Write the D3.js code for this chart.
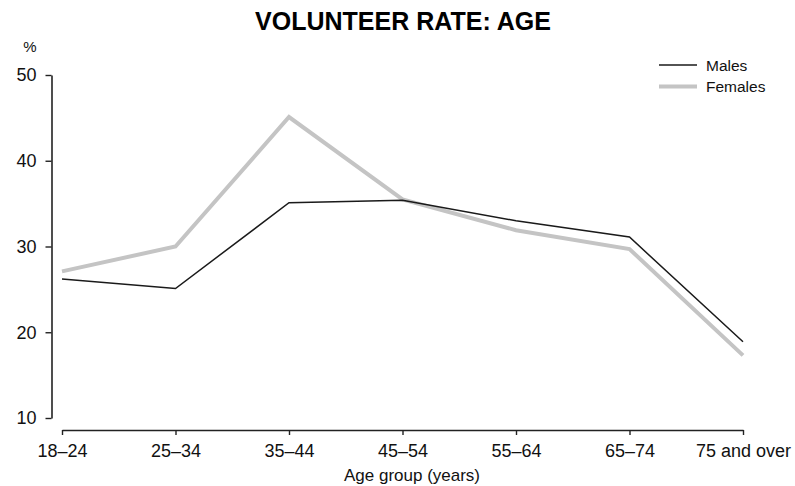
<!DOCTYPE html>
<html>
<head>
<meta charset="utf-8">
<script src="https://cdn.jsdelivr.net/npm/d3@7"></script>
<style>
  html, body { margin: 0; padding: 0; background: #fff; }
  svg { display: block; }
</style>
</head>
<body>
<svg id="chart" width="795" height="486"></svg>
<script>
const categories = ["18–24", "25–34", "35–44", "45–54", "55–64", "65–74", "75 and over"];
const males   = [26.2, 25.1, 35.1, 35.4, 33.0, 31.1, 18.9];
const females = [27.1, 30.0, 45.1, 35.5, 31.9, 29.7, 17.3];
const yTicks = [10, 20, 30, 40, 50];
const seriesNames = ["Males", "Females"];

const svg = d3.select("#chart");
const font = "'Liberation Sans', Arial, sans-serif";

const x = d3.scalePoint().domain(categories).range([62, 743]).padding(0);
const y = d3.scaleLinear().domain([10, 50]).range([418, 75]);

// Title
svg.append("text")
  .attr("x", 403).attr("y", 30)
  .attr("text-anchor", "middle")
  .style("font-family", font).style("font-weight", "bold").style("font-size", "25px")
  .text("VOLUNTEER RATE: AGE");

// Y axis
const yAxis = svg.append("g")
  .attr("transform", "translate(51.5,0)")
  .call(d3.axisLeft(y).tickValues(yTicks).tickSize(6).tickSizeOuter(0).tickPadding(9).tickFormat(d3.format("d")));
yAxis.select(".domain").attr("stroke", "#222").attr("stroke-width", 1.6);
yAxis.selectAll(".tick line").attr("stroke", "#222").attr("stroke-width", 1.4);
yAxis.selectAll(".tick text").style("font-family", font).style("font-size", "18px").attr("fill", "#111");

// % label
svg.append("text")
  .attr("x", 30).attr("y", 52).attr("text-anchor", "middle")
  .style("font-family", font).style("font-size", "15px").attr("fill", "#111")
  .text("%");

// X axis
const xAxis = svg.append("g")
  .attr("transform", "translate(0,430)")
  .call(d3.axisBottom(x).tickSize(5).tickSizeOuter(0).tickPadding(9));
xAxis.select(".domain").attr("stroke", "#222").attr("stroke-width", 1.6);
xAxis.selectAll(".tick line").attr("stroke", "#222").attr("stroke-width", 1.4);
xAxis.selectAll(".tick text").style("font-family", font).style("font-size", "18px").attr("fill", "#111");

// X axis title
svg.append("text")
  .attr("x", 412).attr("y", 481).attr("text-anchor", "middle")
  .style("font-family", font).style("font-size", "17px").attr("fill", "#111")
  .text("Age group (years)");

// Lines
const line = d3.line().x((d, i) => x(categories[i])).y(d => y(d));
svg.append("path").datum(females)
  .attr("d", line).attr("fill", "none")
  .attr("stroke", "#c4c4c4").attr("stroke-width", 4).attr("stroke-linejoin", "miter");
svg.append("path").datum(males)
  .attr("d", line).attr("fill", "none")
  .attr("stroke", "#1a1a1a").attr("stroke-width", 1.5).attr("stroke-linejoin", "miter");

// Legend
const legend = svg.append("g");
const legendStyles = [
  { color: "#1a1a1a", width: 1.5 },
  { color: "#c4c4c4", width: 4 }
];
seriesNames.forEach((name, i) => {
  const yy = 65 + i * 21.5;
  legend.append("line")
    .attr("x1", 659).attr("x2", 697).attr("y1", yy).attr("y2", yy)
    .attr("stroke", legendStyles[i].color).attr("stroke-width", legendStyles[i].width);
  legend.append("text")
    .attr("x", 706).attr("y", yy + 5.5)
    .style("font-family", font).style("font-size", "15.5px").attr("fill", "#111")
    .text(name);
});
</script>
</body>
</html>
